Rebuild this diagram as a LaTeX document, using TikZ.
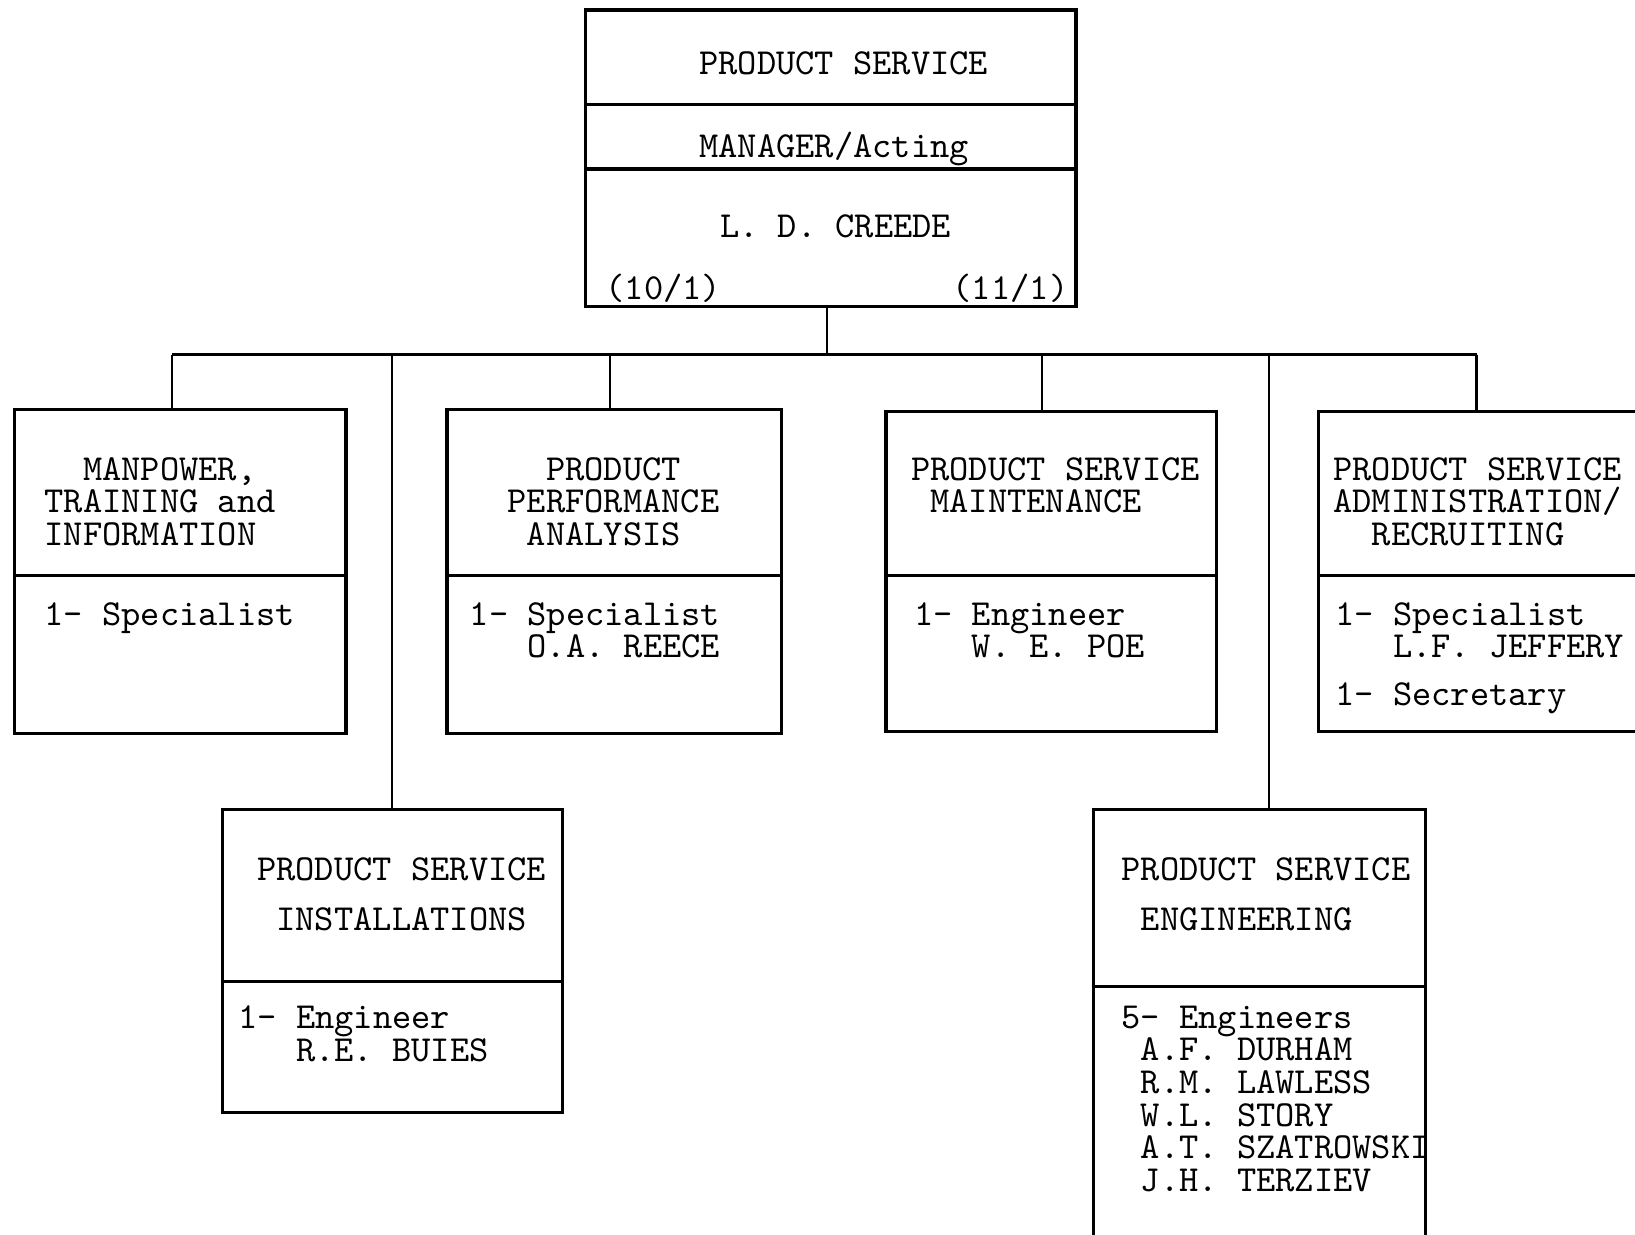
\documentclass[tikz,border=0pt]{standalone}
\usepackage{fontspec}
\usetikzlibrary{positioning}
\tikzset{
  orgbox/.style={draw, line width=0.9pt, rectangle, inner sep=0pt, anchor=north west},
  tw/.style={font={\fontsize{10}{8.9}\selectfont\ttfamily\frenchspacing}, inner sep=0pt, align=left, anchor=north west},
  link/.style={line width=0.6pt},
  sep/.style={line width=0.9pt},
}
\begin{document}
\begin{tikzpicture}[x=0.01cm, y=-0.01cm]
\useasboundingbox (0,0) rectangle (1568,1184);
% Manager
\node[orgbox, minimum width=4.70cm, minimum height=2.84cm] (mgr) at (560,8) {};
\draw[sep] (mgr.west |- 0,100) -- (mgr.east |- 0,100);
\draw[sep] (mgr.west |- 0,162) -- (mgr.east |- 0,162);
\node[tw] (mgrA) at (670,49) {PRODUCT SERVICE};
\node[tw] (mgrB) at (670,126) {MANAGER/Acting};
\node[tw] (mgrC) at (690,205) {L. D. CREEDE};
\node[tw, anchor=base west] (mgrD) at (580,287) {(10/1)};
\node[tw, anchor=base west] (mgrE) at (913,287) {(11/1)};
% Manpower
\node[orgbox, minimum width=3.18cm, minimum height=3.11cm] (mti) at (12,391) {};
\draw[sep] (mti.west |- 0,552) -- (mti.east |- 0,552);
\node[tw] (mtiT) at (42,438) {~~MANPOWER,\\TRAINING and\\INFORMATION};
\node[tw] (mtiS) at (42,577) {1- Specialist};
% Performance analysis
\node[orgbox, minimum width=3.21cm, minimum height=3.11cm] (ppa) at (427,391) {};
\draw[sep] (ppa.west |- 0,552) -- (ppa.east |- 0,552);
\node[tw] (ppaT) at (486,438) {~~PRODUCT\\PERFORMANCE\\~ANALYSIS};
\node[tw] (ppaS) at (450,577) {1- Specialist\\~~~O.A. REECE};
% Maintenance
\node[orgbox, minimum width=3.17cm, minimum height=3.07cm] (psm) at (848,393) {};
\draw[sep] (psm.west |- 0,552) -- (psm.east |- 0,552);
\node[tw] (psmT) at (873,438) {PRODUCT SERVICE\\~MAINTENANCE};
\node[tw] (psmS) at (876,577) {1- Engineer\\~~~W. E. POE};
% Administration
\node[orgbox, minimum width=3.07cm, minimum height=3.07cm] (psa) at (1263,393) {};
\draw[sep] (psa.west |- 0,552) -- (psa.east |- 0,552);
\node[tw] (psaT) at (1278,438) {PRODUCT SERVICE\\ADMINISTRATION/\\~~RECRUITING};
\node[tw] (psaS) at (1280,577) {1- Specialist\\~~~L.F. JEFFERY\\[4.2pt]1- Secretary};
% Installations
\node[orgbox, minimum width=3.26cm, minimum height=2.90cm] (psi) at (212,775) {};
\draw[sep] (psi.west |- 0,941) -- (psi.east |- 0,941);
\node[tw] (psiT) at (246,822) {PRODUCT SERVICE\\[4.8pt]~INSTALLATIONS};
\node[tw] (psiS) at (228,964) {1- Engineer\\~~~R.E. BUIES};
% Engineering
\node[orgbox, minimum width=3.18cm, minimum height=4.50cm] (pse) at (1047,775) {};
\draw[sep] (pse.west |- 0,946) -- (pse.east |- 0,946);
\node[tw] (pseT) at (1075,822) {PRODUCT SERVICE\\[4.8pt]~ENGINEERING};
\node[tw] (pseS) at (1075,964) {5- Engineers\\~A.F. DURHAM\\~R.M. LAWLESS\\~W.L. STORY\\~A.T. SZATROWSKI\\~J.H. TERZIEV};
% Bus
\coordinate (bus) at (793,340);
\coordinate (b1) at (165,340);
\coordinate (b2) at (585,340);
\coordinate (b3) at (999,340);
\coordinate (b4) at (1416,340);
\coordinate (bi) at (376,340);
\coordinate (be) at (1217,340);
\draw[link] (mgr.south -| bus) -- (bus);
\draw[link] (b1) -- (b4);
\draw[link] (b1) -- (b1 |- mti.north);
\draw[link] (b2) -- (b2 |- ppa.north);
\draw[link] (b3) -- (b3 |- psm.north);
\draw[link] (b4) -- (b4 |- psa.north);
\draw[link] (bi) -- (bi |- psi.north);
\draw[link] (be) -- (be |- pse.north);
\end{tikzpicture}
\end{document}
